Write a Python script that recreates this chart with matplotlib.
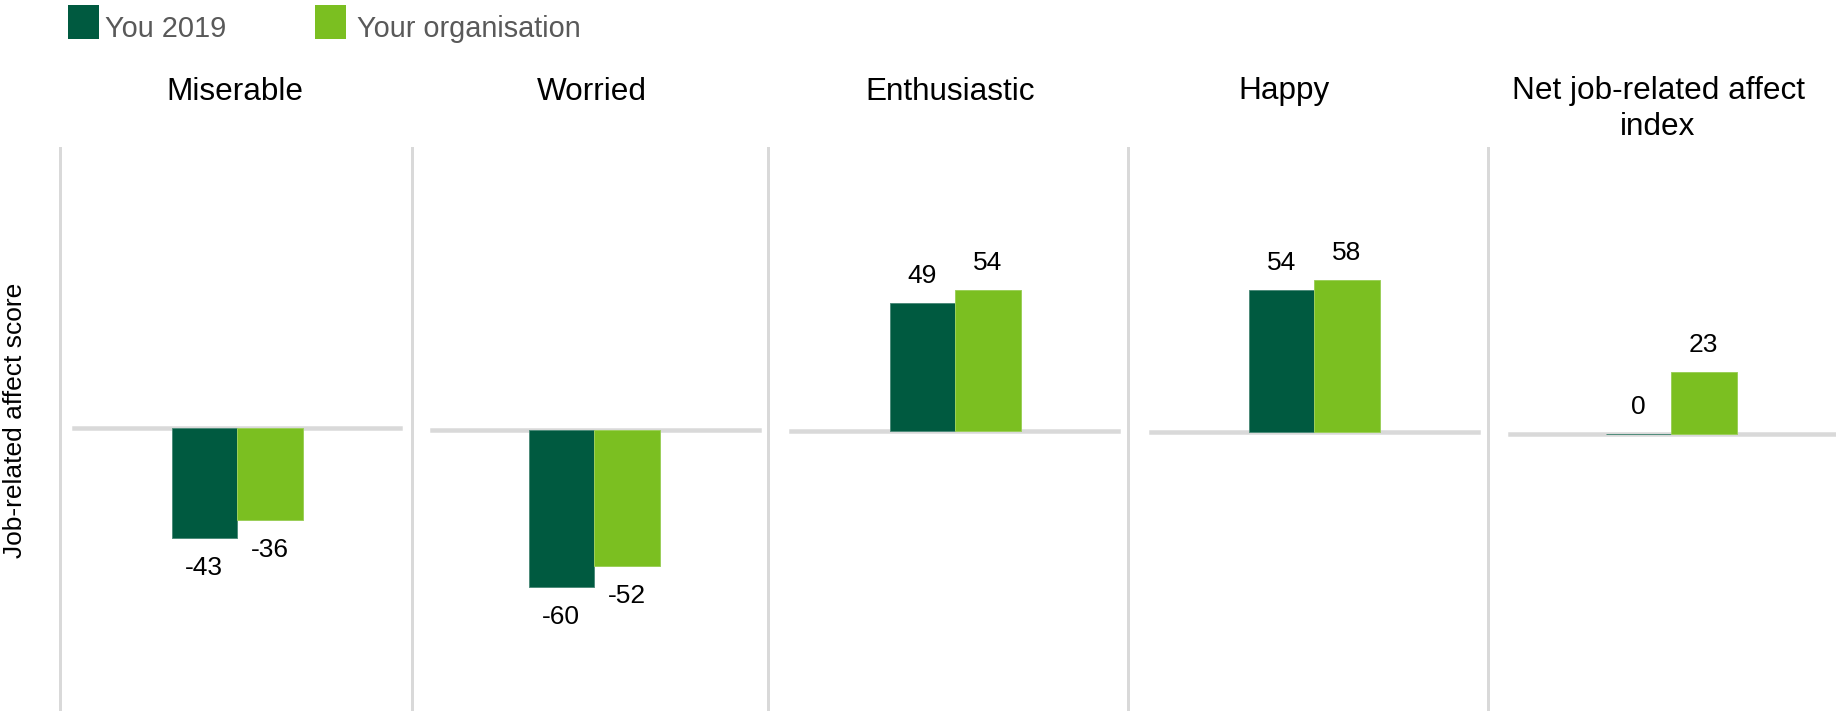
import matplotlib
matplotlib.use("Agg")
import matplotlib.pyplot as plt
from matplotlib.patches import Rectangle

# ---------------- data ----------------
categories = ["Miserable", "Worried", "Enthusiastic", "Happy",
              "Net job-related affect\nindex"]
series_names = ["You 2019", "Your organisation"]
you_2019 = [-43, -60, 49, 54, 0]
your_org = [-36, -52, 54, 58, 23]
y_label = "Job-related affect score"

# ---------------- layout (pixels) ----------------
W, H = 1836, 711
DARK = "#005A40"
LIGHT = "#7BBF21"
DARK_EDGE = "#4E8C7A"
LIGHT_EDGE = "#9CCF5A"
GRID = "#D9D9D9"

spine_x = [60, 412, 768, 1128, 1488]
panel_right = [412, 768, 1128, 1488, 1846]
bar_center = [237, 594, 955, 1314, 1671]
title_x = [235, 592, 950, 1284, 1658]
zero_y = [427.5, 430, 431, 431.5, 433.5]
px_per_unit = [2.58, 2.62, 2.62, 2.62, 2.67]
zl_start = [14, 20, 23, 23, 22]
zl_end = [12, 9, 10, 10, 0]
BAR_W = 65.5
AX_TOP = 148


def pt(p):
    return p * 72.0 / 100.0


plt.rcParams["font.family"] = ["Liberation Sans", "DejaVu Sans"]
fig = plt.figure(figsize=(W / 100, H / 100), dpi=100)

for i in range(len(categories)):
    l, r = spine_x[i], panel_right[i]
    ax = fig.add_axes([l / W, 0, (r - l) / W, 1 - AX_TOP / H])
    ax.patch.set_alpha(0)
    c = bar_center[i]
    ax.set_xlim((l - c) / BAR_W, (r - c) / BAR_W)
    k, z = px_per_unit[i], zero_y[i]
    ax.set_ylim(-(H - z) / k, (z - AX_TOP) / k)

    ax.axhline(0, xmin=zl_start[i] / (r - l), xmax=(r - l - zl_end[i]) / (r - l),
               color=GRID, lw=pt(4.5), zorder=1)

    vals = [you_2019[i], your_org[i]]
    xs = [-0.5, 0.5]
    cols = [DARK, LIGHT]
    edges = [DARK_EDGE, LIGHT_EDGE]
    for x, v, col, ec in zip(xs, vals, cols, edges):
        ax.bar([x], [v], width=1.0, color=col, edgecolor=ec, linewidth=0.7, zorder=3)
        if v >= 0:
            ax.annotate(str(v), (x, v), xytext=(0, pt(20)), textcoords="offset points",
                        ha="center", va="baseline", fontsize=19, color="black")
        else:
            ax.annotate(str(v), (x, v), xytext=(0, -pt(18)), textcoords="offset points",
                        ha="center", va="top", fontsize=19, color="black")

    for s in ["top", "right", "bottom"]:
        ax.spines[s].set_visible(False)
    ax.spines["left"].set_color(GRID)
    ax.spines["left"].set_linewidth(pt(3))
    ax.set_xticks([])
    ax.set_yticks([])

    fig.text(title_x[i] / W, 1 - 76.5 / H, categories[i], ha="center", va="top",
             fontsize=22.7, linespacing=1.26, color="black")

# legend
legend_box_x = [68, 315]
legend_text_x = [105, 357]
for bx, tx, name, col in zip(legend_box_x, legend_text_x, series_names, [DARK, LIGHT]):
    fig.add_artist(Rectangle((bx / W, 1 - 39 / H), 31 / W, 34 / H,
                             transform=fig.transFigure, facecolor=col, edgecolor="none"))
    fig.text(tx / W, 1 - 37 / H, name, ha="left", va="baseline",
             fontsize=20.8, color="#595959")

# y label
fig.text(15 / W, 1 - 420 / H, y_label, rotation=90, ha="center", va="center",
         fontsize=19, color="black")

fig.savefig("out.png", dpi=100)
